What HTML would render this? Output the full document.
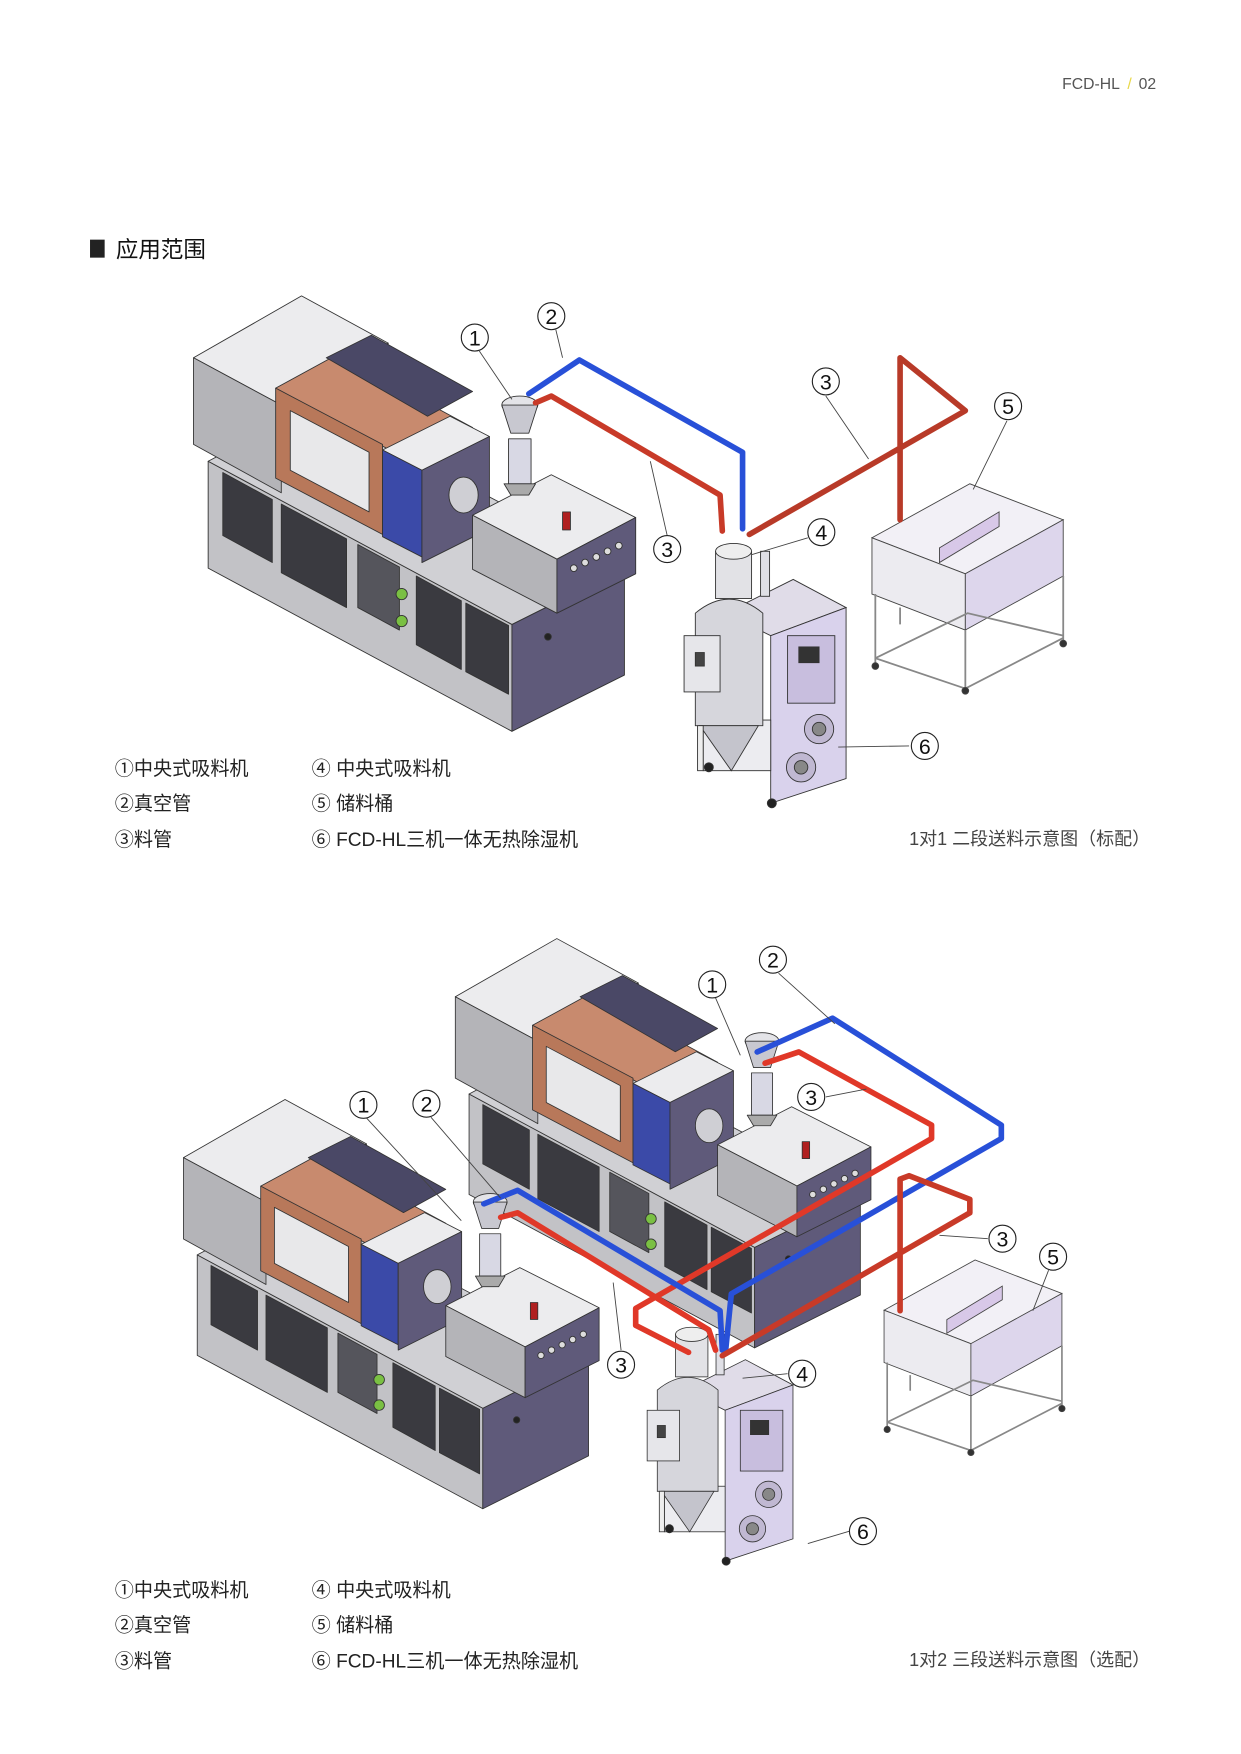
<!DOCTYPE html>
<html><head><meta charset="utf-8"><style>
html,body{margin:0;padding:0;background:#fff;}
svg{display:block;}
text{font-family:"Liberation Sans","Noto Sans CJK SC",sans-serif;}
</style></head><body>
<svg width="1241" height="1754" viewBox="0 0 1103 1559" xmlns="http://www.w3.org/2000/svg">
<defs>
<g id="M" stroke="#333" stroke-width="0.8" stroke-linejoin="round">
  <!-- base -->
  <polygon points="185,410 455,555 455,650 185,505" fill="#c2c2c6"/>
  <polygon points="455,555 555,505 555,600 455,650" fill="#5f5a7a"/>
  <polygon points="185,410 280,360 555,505 455,555" fill="#d0d0d4"/>
  <!-- dark panels -->
  <polygon points="198,420 242,444 242,500 198,476" fill="#3a3a40"/>
  <polygon points="250,448 308,479 308,540 250,509" fill="#3a3a40"/>
  <polygon points="318,484 355,504 355,560 318,540" fill="#55555c"/>
  <polygon points="370,512 410,534 410,595 370,573" fill="#3a3a40"/>
  <polygon points="414,536 452,556 452,617 414,597" fill="#3a3a40"/>
  <circle cx="357" cy="528" r="5" fill="#7ac043"/>
  <circle cx="357" cy="552" r="5" fill="#7ac043"/>
  <!-- clamp block -->
  <polygon points="172,318 268,263 345,305 250,360" fill="#ececee"/>
  <polygon points="172,318 250,360 250,438 172,395" fill="#b4b4b8"/>
  <polygon points="250,360 345,305 345,350 250,405" fill="#a8a8b0"/>
  <!-- copper frame -->
  <polygon points="245,345 300,315 420,380 365,410" fill="#c88a6e"/>
  <polygon points="245,345 340,395 340,475 245,425" fill="#b8785a"/>
  <polygon points="258,365 328,402 328,455 258,418" fill="#e8e8ea"/>
  <polygon points="290,318 330,298 420,348 380,370" fill="#4a4866"/>
  <!-- injection unit -->
  <polygon points="340,400 400,370 435,388 375,418" fill="#ececee"/>
  <polygon points="340,400 375,418 375,495 340,477" fill="#3b4aa8"/>
  <polygon points="375,418 435,388 435,470 375,500" fill="#5f5a7a"/>
  <!-- nozzle cylinder -->
  <ellipse cx="412" cy="440" rx="13" ry="16" fill="#cfcfd4"/>
  <!-- barrel box -->
  <polygon points="420,458 490,422 565,460 495,497" fill="#ececee"/>
  <polygon points="420,458 495,497 495,545 420,506" fill="#b4b4b8"/>
  <polygon points="495,497 565,460 565,510 495,545" fill="#5f5a7a"/>
  <rect x="500" y="455" width="7" height="16" fill="#b02020"/>
  <g fill="#ddd"><circle cx="510" cy="505" r="3"/><circle cx="520" cy="500" r="3"/><circle cx="530" cy="495" r="3"/><circle cx="540" cy="490" r="3"/><circle cx="550" cy="485" r="3"/></g>
  <circle cx="487" cy="566" r="3" fill="#222"/>
  <!-- hopper loader -->
  <ellipse cx="462" cy="360" rx="16" ry="8" fill="#e4e4e8"/>
  <polygon points="446,360 478,360 470,385 454,385" fill="#c8c8d0"/>
  <rect x="452" y="390" width="20" height="40" fill="#d8d8e4"/>
  <polygon points="448,430 476,430 470,440 454,440" fill="#aaa"/>
</g>
<g id="D" stroke="#333" stroke-width="0.8">
  <polygon points="645,545 705,515 752,540 685,565" fill="#e0dce8"/>
  <polygon points="685,565 752,540 752,692 685,714" fill="#d9d2ec"/>
  <rect x="700" y="565" width="42" height="60" fill="#c8bede"/>
  <rect x="710" y="575" width="18" height="14" fill="#333"/>
  <circle cx="728" cy="648" r="13" fill="#c0b8d2"/><circle cx="728" cy="648" r="6" fill="#888"/>
  <circle cx="712" cy="682" r="13" fill="#c0b8d2"/><circle cx="712" cy="682" r="6" fill="#888"/>
  <rect x="625" y="640" width="60" height="45" fill="#ececf0"/>
  <path d="M618,545 Q648,520 678,545 L678,645 L618,645 Z" fill="#d6d6dc"/>
  <polygon points="622,645 674,645 650,685" fill="#c4c4cc"/>
  <rect x="608" y="565" width="32" height="50" fill="#e6e6ea"/>
  <rect x="618" y="580" width="8" height="12" fill="#444"/>
  <rect x="636" y="490" width="32" height="42" fill="#e2e2e6"/>
  <ellipse cx="652" cy="490" rx="16" ry="7" fill="#eee"/>
  <rect x="676" y="490" width="8" height="40" fill="#e0e0e6"/>
  <circle cx="630" cy="682" r="4" fill="#222"/><circle cx="686" cy="714" r="4" fill="#222"/>
  <rect x="620" y="645" width="5" height="40" fill="#eee"/>
</g>
<g id="B" stroke="#444" stroke-width="0.8">
  <polygon points="775,478 862,430 945,462 858,510" fill="#f2f0f6"/>
  <polygon points="775,478 858,510 858,560 775,528" fill="#ecebf0"/>
  <polygon points="858,510 945,462 945,512 858,560" fill="#ddd6ec"/>
  <polygon points="835,487 888,455 888,468 835,500" fill="#d8c8e8"/>
  <g fill="none" stroke="#888" stroke-width="1.6">
    <path d="M778,528 L778,590 M858,560 L858,612 M945,512 L945,570 M800,540 L800,555"/>
    <path d="M778,585 L858,612 L945,567 M778,585 L860,545 L945,565"/>
  </g>
  <circle cx="778" cy="592" r="3" fill="#333"/><circle cx="858" cy="614" r="3" fill="#333"/><circle cx="945" cy="572" r="3" fill="#333"/>
</g>
</defs>

<!-- header -->
<text x="944" y="79" font-size="14" fill="#555">FCD-HL</text>
<text x="1002" y="79" font-size="14" fill="#e8d848">/</text>
<text x="1012" y="79" font-size="14" fill="#555">02</text>
<rect x="80" y="213" width="13" height="16" fill="#222"/>
<text x="103" y="229" font-size="20" fill="#111">应用范围</text>

<!-- ===== diagram 1 ===== -->
<use href="#M"/>
<use href="#D"/>
<use href="#B"/>
<g fill="none" stroke-linecap="round" stroke-linejoin="round" stroke-width="5">
  <path d="M470,350 L515,320 L660,402 L660,470" stroke="#2850d8"/>
  <path d="M476,358 L490,352 L640,440 L642,472" stroke="#c83a28"/>
  <path d="M666,475 L858,365 L800,318 L800,462" stroke="#b83a28"/>
</g>
<g stroke="#444" stroke-width="0.8" fill="none">
  <path d="M426,312 L455,355 M494,293 L500,318 M734,352 L772,408 M593,476 L578,410 M718,478 L668,493 M895,374 L865,435 M808,663 L745,664"/>
</g>
<g fill="#fff" stroke="#222" stroke-width="1"><circle cx="422" cy="300" r="12"/><circle cx="490" cy="281" r="12"/><circle cx="734" cy="339" r="12"/><circle cx="896" cy="361" r="12"/><circle cx="593" cy="488" r="12"/><circle cx="730" cy="473" r="12"/><circle cx="822" cy="663" r="12"/></g>
<g font-size="19" text-anchor="middle" fill="#111">
<text x="422" y="307">1</text><text x="490" y="288">2</text><text x="734" y="346">3</text><text x="896" y="368">5</text><text x="593" y="495">3</text><text x="730" y="480">4</text><text x="822" y="670">6</text>
</g>
<g font-size="17" fill="#222">
<text x="102" y="689">①中央式吸料机</text><text x="277" y="689">④ 中央式吸料机</text>
<text x="102" y="720">②真空管</text><text x="277" y="720">⑤ 储料桶</text>
<text x="102" y="752">③料管</text><text x="277" y="752">⑥ FCD-HL三机一体无热除湿机</text>
<text x="808" y="751" font-size="16" fill="#444">1对1 二段送料示意图（标配）</text>
</g>

<!-- ===== diagram 2 ===== -->
<g transform="translate(243,587) scale(0.94)"><use href="#M"/></g>
<g transform="translate(-8,730) scale(0.94,0.94) translate(10,0)"><use href="#M"/></g>
<g transform="translate(28,745) scale(0.9)"><use href="#D"/></g>
<g transform="translate(65,720) scale(0.93)"><use href="#B"/></g>
<g fill="none" stroke-linecap="round" stroke-linejoin="round" stroke-width="5">
  <path d="M673,935 L740,905 L890,1000 L890,1012 L650,1150 L645,1200" stroke="#2850d8"/>
  <path d="M680,945 L710,935 L828,1000 L828,1012 L565,1163 L565,1178 L612,1202" stroke="#e03828"/>
  <path d="M430,1070 L460,1058 L640,1165 L642,1200" stroke="#2850d8"/>
  <path d="M445,1082 L460,1078 L630,1182 L636,1200" stroke="#e03828"/>
  <path d="M642,1205 L862,1078 L862,1066 L808,1045 L800,1048 L800,1165" stroke="#c83a28"/>
</g>
<g stroke="#444" stroke-width="0.8" fill="none">
  <path d="M636,887 L658,938 M692,865 L742,910 M734,975 L770,968 M326,994 L410,1085 M383,993 L445,1065 M878,1101 L835,1098 M932,1129 L918,1165 M552,1200 L545,1140 M700,1221 L660,1225 M755,1361 L718,1372"/>
</g>
<g fill="#fff" stroke="#222" stroke-width="1"><circle cx="633" cy="875" r="12"/><circle cx="687" cy="853" r="12"/><circle cx="721" cy="975" r="12"/><circle cx="323" cy="982" r="12"/><circle cx="379" cy="981" r="12"/><circle cx="891" cy="1101" r="12"/><circle cx="936" cy="1117" r="12"/><circle cx="552" cy="1213" r="12"/><circle cx="713" cy="1221" r="12"/><circle cx="767" cy="1361" r="12"/></g>
<g font-size="19" text-anchor="middle" fill="#111">
<text x="633" y="882">1</text><text x="687" y="860">2</text><text x="721" y="982">3</text><text x="323" y="989">1</text><text x="379" y="988">2</text><text x="891" y="1108">3</text><text x="936" y="1124">5</text><text x="552" y="1220">3</text><text x="713" y="1228">4</text><text x="767" y="1368">6</text>
</g>
<g font-size="17" fill="#222">
<text x="102" y="1419">①中央式吸料机</text><text x="277" y="1419">④ 中央式吸料机</text>
<text x="102" y="1450">②真空管</text><text x="277" y="1450">⑤ 储料桶</text>
<text x="102" y="1482">③料管</text><text x="277" y="1482">⑥ FCD-HL三机一体无热除湿机</text>
<text x="808" y="1481" font-size="16" fill="#444">1对2 三段送料示意图（选配）</text>
</g>
</svg>
</body></html>
